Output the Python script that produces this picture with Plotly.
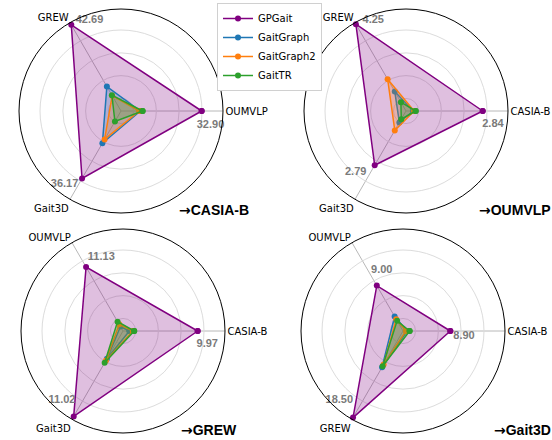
import plotly.graph_objects as go

# ---------------- data (normalised radius, outer ring = 1) ----------------
methods = ["GPGait", "GaitGraph", "GaitGraph2", "GaitTR"]
targets = ["CASIA-B", "OUMVLP", "GREW", "Gait3D"]

axes_casia = ["OUMVLP", "GREW", "Gait3D"]
axes_oumvlp = ["CASIA-B", "GREW", "Gait3D"]
axes_grew = ["CASIA-B", "OUMVLP", "Gait3D"]
axes_gait3d = ["CASIA-B", "OUMVLP", "GREW"]

casia_gpgait = [0.791, 0.975, 0.764]
casia_gaitgraph = [0.19, 0.277, 0.365]
casia_gaitgraph2 = [0.18, 0.173, 0.322]
casia_gaittr = [0.212, 0.179, 0.119]
casia_labels = ["32.90", "42.69", "36.17"]

oumvlp_gpgait = [0.752, 0.983, 0.614]
oumvlp_gaitgraph = [0.07, 0.22, 0.13]
oumvlp_gaitgraph2 = [0.08, 0.36, 0.22]
oumvlp_gaittr = [0.095, 0.10, 0.093]
oumvlp_labels = ["2.84", "4.25", "2.79"]

grew_gpgait = [0.732, 0.724, 0.967]
grew_gaitgraph = [0.063, 0.05, 0.315]
grew_gaitgraph2 = [0.097, 0.075, 0.334]
grew_gaittr = [0.11, 0.106, 0.36]
grew_labels = ["9.97", "11.13", "11.02"]

gait3d_gpgait = [0.464, 0.514, 0.98]
gait3d_gaitgraph = [0.04, 0.164, 0.41]
gait3d_gaitgraph2 = [0.03, 0.134, 0.38]
gait3d_gaittr = [0.065, 0.115, 0.40]
gait3d_labels = ["8.90", "9.00", "18.50"]

# ---------------- layout / style ----------------
axis_angles = [0, 120, 240]
label_theta = [[351.1, 109.1, 232.3], [351.5, 109.8, 230.6],
               [351.2, 106.4, 228.5], [355.5, 109.2, 227.3]]
label_r = [[0.888, 0.944, 0.905], [0.862, 0.948, 0.777],
           [0.836, 0.753, 0.903], [0.6, 0.633, 0.921]]

W, H = 552, 440
R = 102
centers = [(121, 111), (406, 111), (123, 331), (403, 331)]
title_pos = [(214, 210), (515, 210), (209, 430), (522, 430)]

line_colors = ["#800080", "#1f77b4", "#ff7f0e", "#2ca02c"]
fill_colors = ["rgba(128,0,128,0.25)", "rgba(31,119,180,0.25)",
               "rgba(255,127,14,0.25)", "rgba(44,160,44,0.25)"]
ring_vals = [0.123, 0.347, 0.570, 0.794]

charts = [
    (axes_casia, [casia_gpgait, casia_gaitgraph, casia_gaitgraph2, casia_gaittr], casia_labels),
    (axes_oumvlp, [oumvlp_gpgait, oumvlp_gaitgraph, oumvlp_gaitgraph2, oumvlp_gaittr], oumvlp_labels),
    (axes_grew, [grew_gpgait, grew_gaitgraph, grew_gaitgraph2, grew_gaittr], grew_labels),
    (axes_gait3d, [gait3d_gpgait, gait3d_gaitgraph, gait3d_gaitgraph2, gait3d_gaittr], gait3d_labels),
]

fig = go.Figure()
layout = dict()
annotations = []
for ci, (axes, series, labels) in enumerate(charts):
    pname = "polar" if ci == 0 else f"polar{ci+1}"
    for mi, vals in enumerate(series):
        fig.add_trace(go.Scatterpolar(
            r=vals + vals[:1], theta=axis_angles + axis_angles[:1],
            mode="lines+markers", fill="toself", fillcolor=fill_colors[mi],
            line=dict(color=line_colors[mi], width=1.5),
            marker=dict(color=line_colors[mi], size=6),
            name=methods[mi], showlegend=False, subplot=pname))
    fig.add_trace(go.Scatterpolar(
        r=label_r[ci], theta=label_theta[ci], mode="text", text=labels,
        textfont=dict(color="#7a7a7a", size=11, family="Liberation Sans", weight="bold"),
        showlegend=False, subplot=pname, hoverinfo="skip"))
    cx, cy = centers[ci]
    layout[pname] = dict(
        domain=dict(x=[(cx - R) / W, (cx + R) / W], y=[1 - (cy + R) / H, 1 - (cy - R) / H]),
        bgcolor="white",
        radialaxis=dict(range=[0, 1], tickvals=ring_vals, showticklabels=False,
                        ticks="", showline=False, gridcolor="#dcdcdc", gridwidth=1),
        angularaxis=dict(tickmode="array", tickvals=axis_angles, ticktext=axes,
                         rotation=0, direction="counterclockwise", ticks="",
                         showline=True, linecolor="black", linewidth=1,
                         gridcolor="#b8b8b8", gridwidth=1,
                         tickfont=dict(size=10, color="black")),
    )
    tx, ty = title_pos[ci]
    annotations.append(dict(
        text="<span style='font-family:DejaVu Sans'>→</span>" + targets[ci],
        x=tx / W, y=1 - ty / H, xref="paper", yref="paper",
        showarrow=False, xanchor="center", yanchor="middle",
        font=dict(size=14, color="black", family="Liberation Sans", weight="bold")))

# legend entries (line + marker only)
for mi, name in enumerate(methods):
    fig.add_trace(go.Scatterpolar(
        r=[None], theta=[None], mode="lines+markers", name=name,
        line=dict(color=line_colors[mi], width=1.5),
        marker=dict(color=line_colors[mi], size=6),
        showlegend=True, subplot="polar", hoverinfo="skip"))

fig.update_layout(
    width=W, height=H, margin=dict(l=0, r=0, t=0, b=0),
    paper_bgcolor="white", plot_bgcolor="white",
    font=dict(family="DejaVu Sans", size=10, color="black"),
    legend=dict(x=217 / W, y=1 - 3 / H, xanchor="left", yanchor="top",
                bordercolor="#d0d0d0", borderwidth=1, bgcolor="white",
                font=dict(size=10), tracegroupgap=0, itemwidth=30),
    annotations=annotations,
    **layout,
)
fig.write_html("out.html", config={"displayModeBar": False},
               post_script="document.body.style.margin='0';")
